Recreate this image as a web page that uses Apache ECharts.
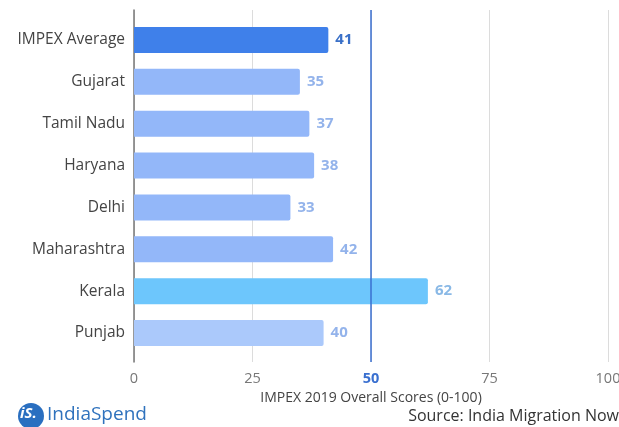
<!DOCTYPE html>
<html><head><meta charset="utf-8">
<script src="https://cdn.jsdelivr.net/npm/echarts@6/dist/echarts.min.js"></script>
<style>html,body{margin:0;padding:0;background:#fff}#c{width:619px;height:427px}</style>
</head><body><div id="c"></div>
<script>
const categories = ['IMPEX Average','Gujarat','Tamil Nadu','Haryana','Delhi','Maharashtra','Kerala','Punjab'];
const scores = [41,35,37,38,33,42,62,40];
const barColors = ['#3f80ea','#93b7f9','#93b7f9','#93b7f9','#93b7f9','#93b7f9','#6dc6fc','#abc9fb'];
const labelColors = ['#3a70c8','#93b3eb','#93b3eb','#93b3eb','#93b3eb','#93b3eb','#8ab9e6','#93b3eb'];
const xTicks = [0,25,50,75,100];
const refValue = 50;
const FONT = '"Open Sans", sans-serif';

const chart = echarts.init(document.getElementById('c'));
chart.setOption({
  animation:false,
  textStyle:{fontFamily:FONT},
  grid:[
    {left:134,right:11,top:19,bottom:73,outerBoundsMode:'none',containLabel:false},
    {left:134,right:11,top:10,bottom:65,outerBoundsMode:'none',containLabel:false}
  ],
  xAxis:[
    {gridIndex:0,type:'value',min:0,max:100,show:false},
    {gridIndex:1,type:'value',min:0,max:100,interval:25,
     axisLine:{show:false},axisTick:{show:false},
     splitLine:{show:true,lineStyle:{color:'#dcdcdc',width:1}},
     axisLabel:{margin:9,fontSize:14.5,color:'#777',fontFamily:FONT,
       formatter:v=> v===refValue ? '{b|'+v+'}' : String(v),
       rich:{b:{fontSize:14.5,fontWeight:'bold',color:'#3a70d0',fontFamily:FONT}}},
     name:'IMPEX 2019 Overall Scores (0-100)',nameLocation:'middle',nameGap:28,
     nameTextStyle:{fontSize:14,color:'#444',fontFamily:FONT}}
  ],
  yAxis:[
    {gridIndex:0,type:'category',data:categories,inverse:true,
     axisLine:{show:false},axisTick:{show:false},
     axisLabel:{fontSize:15.5,color:'#444',fontWeight:500,margin:9,fontFamily:FONT}},
    {gridIndex:1,type:'category',data:['a'],show:true,
     axisLabel:{show:false},axisTick:{show:false},
     axisLine:{show:true,lineStyle:{color:'#777',width:1.5}}}
  ],
  series:[
    {type:'bar',xAxisIndex:0,yAxisIndex:0,barWidth:26,
     data:scores.map((v,i)=>({value:v,itemStyle:{color:barColors[i]},
        label:{color:labelColors[i]}})),
     itemStyle:{borderRadius:[0,2,2,0]},
     label:{show:true,position:'right',distance:7,fontSize:15,fontWeight:'bold',fontFamily:FONT},
     z:2},
    {type:'line',xAxisIndex:1,yAxisIndex:1,data:[],z:10,
     markLine:{silent:true,symbol:'none',z:10,label:{show:false},
       lineStyle:{color:'#3a6fd0',width:1.5,type:'solid'},
       data:[{xAxis:refValue}]}}
  ],
  graphic:[
    {type:'circle',shape:{cx:31,cy:416,r:13},style:{fill:'#2a6fc0'},z:10},
    {type:'text',left:20,top:406,style:{text:'iS.',fill:'#fff',font:'italic bold 15px '+FONT},z:11},
    {type:'text',left:47,top:405,style:{text:'IndiaSpend',fill:'#2f72bd',font:'19px '+FONT},z:11},
    {type:'text',right:0,top:408,style:{text:'Source: India Migration Now',fill:'#333',font:'16px '+FONT},z:11}
  ]
});
</script></body></html>
